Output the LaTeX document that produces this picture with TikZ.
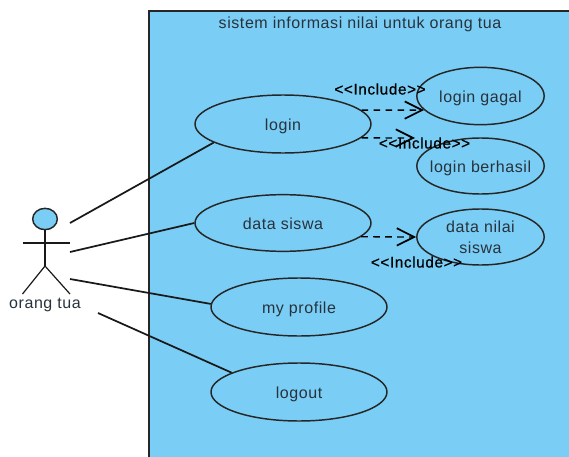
\documentclass[tikz,border=0pt]{standalone}
\usepackage{fontspec}
\setmainfont[LetterSpace=3.6]{Liberation Sans}
\newfontfamily\includefont[LetterSpace=4,FakeBold=0.6]{Liberation Sans}
\usepackage{tikz}
\usetikzlibrary{shapes.geometric}
\usetikzlibrary{arrows.meta}
\definecolor{ucblue}{RGB}{122,205,245}
\definecolor{uctext}{RGB}{40,50,60}
\tikzset{
	usecase/.style={shape=ellipse, draw=black!85, line width=1.1pt, inner sep=0pt, inner xsep=-12pt, text=uctext, align=center, font=\fontsize{12}{16}\selectfont},
	oneline/.style={text height=11.8pt, text depth=2.5pt},
	assoc/.style={draw=black!90, line width=1.3pt},
	include/.style={draw=black, line width=1pt, dash pattern={on 5pt off 4pt}, -{Straight Barb[length=13pt,width=13pt,line width=1.3pt]}},
	includelabel/.style={font=\fontsize{11.5}{13}\includefont, text=black, inner sep=0pt},
}
\begin{document}
\begin{tikzpicture}[x=0.75pt, y=-0.75pt]
	\useasboundingbox (0, 0) rectangle (569, 457);
	% System box:
	\fill[ucblue] (149, 11) rectangle (569, 457);
	\draw[black!85, line width=0.9pt] (149, 457) |- (569, 11);
	\node[text=uctext, inner sep=0pt, font=\fontsize{12}{14}\selectfont](title) at (360, 24){sistem informasi nilai untuk orang tua};
	% Use cases:
	\node[usecase, oneline, minimum width=132pt, minimum height=43.5pt](login) at (283, 124){login};
	\node[usecase, oneline, minimum width=132pt, minimum height=42.5pt](dataSiswa) at (283, 223){data siswa};
	\node[usecase, oneline, minimum width=132pt, minimum height=43.5pt](myProfile) at (299, 307){my profile};
	\node[usecase, oneline, minimum width=132pt, minimum height=43.5pt](logout) at (299, 392){logout};
	\node[usecase, oneline, minimum width=95.5pt, minimum height=43pt](loginGagal) at (480.5, 96){login gagal};
	\node[usecase, oneline, minimum width=95.5pt, minimum height=42pt](loginBerhasil) at (480.5, 166){login berhasil};
	\node[usecase, minimum width=95.5pt, minimum height=42pt](dataNilai) at (480.5, 237){data nilai\\siswa};
	% Actor:
	\node[shape=ellipse, draw=black!85, fill=ucblue, line width=1.1pt, inner sep=0pt, minimum width=18.5pt, minimum height=16pt](head) at (45, 219){};
	\coordinate (hip) at (45, 266);
	\coordinate (armL) at (22.5, 243);
	\coordinate (armR) at (70, 243);
	\coordinate (footL) at (22.5, 294);
	\coordinate (footR) at (70, 294);
	\draw[assoc, line width=0.9pt] (head.south) -- (hip);
	\draw[assoc, line width=0.9pt] (armL) -- (armR);
	\draw[assoc, line width=0.9pt] (footL) -- (hip) -- (footR);
	\node[text=uctext, inner sep=0pt, font=\fontsize{12}{14}\selectfont](actorLabel) at (45, 305){orang tua};
	% Associations:
	\coordinate (a1) at (70, 223);
	\coordinate (a2) at (70, 252);
	\coordinate (a3) at (70, 279);
	\coordinate (a4) at (98, 313);
	\draw[assoc] (a1) -- (login.195);
	\draw[assoc] (a2) -- (dataSiswa.west);
	\draw[assoc] (a3) -- (myProfile.178);
	\draw[assoc] (a4) -- (logout.164);
	% Includes:
	\coordinate (berhasilEnd) at (415, 138);
	\draw[include] (login.10) -- (loginGagal.194);
	\draw[include] (login.-10) -- (berhasilEnd);
	\draw[include] (dataSiswa.-10) -- (dataNilai.west);
	\node[includelabel](inc1) at (380, 89){<{}<Include>{}>};
	\node[includelabel](inc2) at (424.5, 143){<{}<Include>{}>};
	\node[includelabel](inc3) at (416.5, 262){<{}<Include>{}>};
\end{tikzpicture}
\end{document}
